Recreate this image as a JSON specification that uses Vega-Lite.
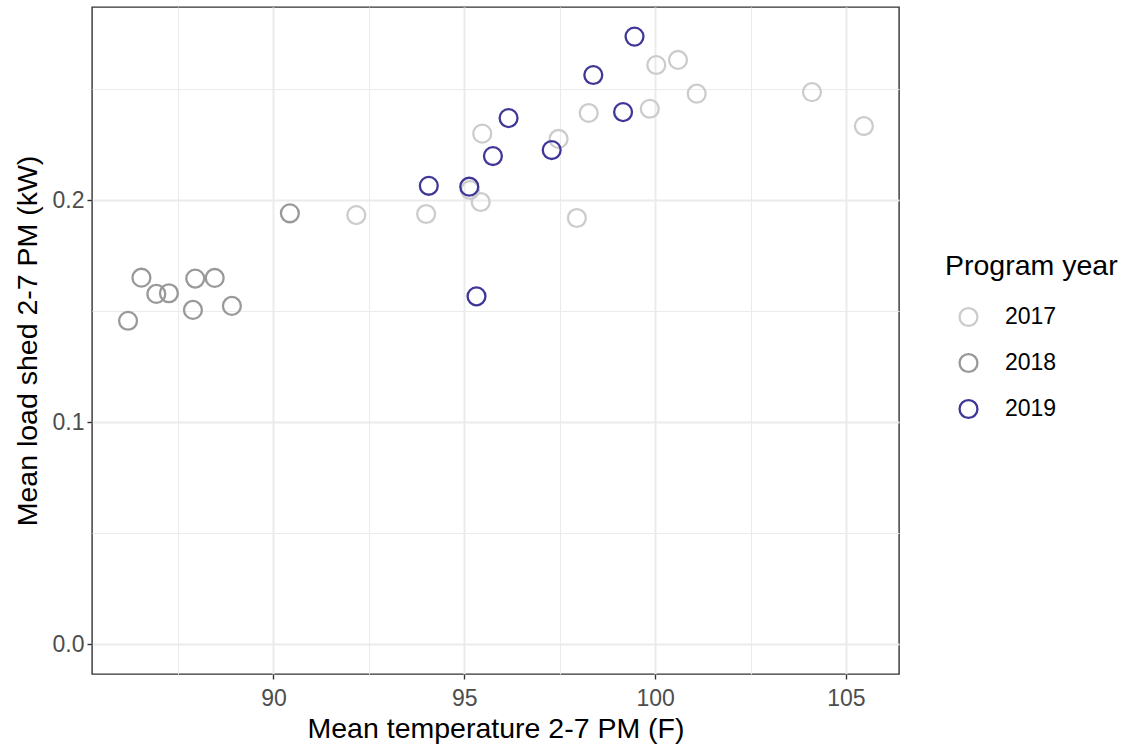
{
  "$schema": "https://vega.github.io/schema/vega-lite/v6.json",
  "width": 807,
  "height": 667,
  "autosize": "none",
  "padding": {"left": 92, "top": 7, "right": 226, "bottom": 75},
  "background": "white",
  "config": {
    "font": "Liberation Sans",
    "view": {"stroke": "#333333", "strokeWidth": 1.4}
  },
  "data": {
    "values": [
      {"temp": 90.43, "shed": 0.194, "year": "2018"},
      {"temp": 86.54, "shed": 0.165, "year": "2018"},
      {"temp": 86.93, "shed": 0.1577, "year": "2018"},
      {"temp": 87.26, "shed": 0.158, "year": "2018"},
      {"temp": 87.95, "shed": 0.1646, "year": "2018"},
      {"temp": 88.46, "shed": 0.1649, "year": "2018"},
      {"temp": 87.89, "shed": 0.1505, "year": "2018"},
      {"temp": 88.91, "shed": 0.1523, "year": "2018"},
      {"temp": 86.19, "shed": 0.1456, "year": "2018"},
      {"temp": 92.17, "shed": 0.1932, "year": "2017"},
      {"temp": 94.0, "shed": 0.1937, "year": "2017"},
      {"temp": 95.15, "shed": 0.2045, "year": "2017"},
      {"temp": 95.43, "shed": 0.1991, "year": "2017"},
      {"temp": 95.47, "shed": 0.2299, "year": "2017"},
      {"temp": 97.47, "shed": 0.2275, "year": "2017"},
      {"temp": 97.95, "shed": 0.1919, "year": "2017"},
      {"temp": 98.26, "shed": 0.2392, "year": "2017"},
      {"temp": 99.86, "shed": 0.2411, "year": "2017"},
      {"temp": 100.03, "shed": 0.2608, "year": "2017"},
      {"temp": 100.6, "shed": 0.2631, "year": "2017"},
      {"temp": 101.09, "shed": 0.2479, "year": "2017"},
      {"temp": 104.11, "shed": 0.2486, "year": "2017"},
      {"temp": 105.47, "shed": 0.2333, "year": "2017"},
      {"temp": 99.46, "shed": 0.2736, "year": "2019"},
      {"temp": 98.38, "shed": 0.2563, "year": "2019"},
      {"temp": 99.16, "shed": 0.2396, "year": "2019"},
      {"temp": 96.16, "shed": 0.2369, "year": "2019"},
      {"temp": 95.75, "shed": 0.2198, "year": "2019"},
      {"temp": 97.29, "shed": 0.2225, "year": "2019"},
      {"temp": 94.07, "shed": 0.2064, "year": "2019"},
      {"temp": 95.13, "shed": 0.206, "year": "2019"},
      {"temp": 95.32, "shed": 0.1566, "year": "2019"}
    ]
  },
  "mark": {"type": "point", "shape": "circle", "filled": false, "size": 320, "strokeWidth": 2.3, "opacity": 1},
  "encoding": {
    "x": {
      "field": "temp",
      "type": "quantitative",
      "scale": {"domain": [85.245, 106.39], "nice": false, "zero": false},
      "axis": {
        "title": "Mean temperature 2-7 PM (F)",
        "values": [87.5, 90, 92.5, 95, 97.5, 100, 102.5, 105],
        "labelExpr": "datum.value % 5 === 0 ? datum.label : ''",
        "gridColor": "#ebebeb",
        "gridWidth": {"condition": {"test": "datum.value % 5 !== 0", "value": 1}, "value": 2},
        "tickColor": {"condition": {"test": "datum.value % 5 !== 0", "value": "transparent"}, "value": "#333333"},
        "tickSize": 5,
        "tickWidth": 1.4,
        "domain": false,
        "labelColor": "#4d4d4d",
        "labelFontSize": 23,
        "labelPadding": 8,
        "titleFontSize": 28.5,
        "titleFontWeight": "normal",
        "titleColor": "#000000",
        "titlePadding": 4
      }
    },
    "y": {
      "field": "shed",
      "type": "quantitative",
      "scale": {"domain": [-0.01351, 0.28694], "nice": false, "zero": false},
      "axis": {
        "title": "Mean load shed 2-7 PM (kW)",
        "values": [0, 0.05, 0.1, 0.15, 0.2, 0.25],
        "labelExpr": "abs(datum.value * 10 - round(datum.value * 10)) < 0.001 ? format(datum.value, '.1f') : ''",
        "gridColor": "#ebebeb",
        "gridWidth": {"condition": {"test": "abs(datum.value * 10 - round(datum.value * 10)) > 0.001", "value": 1}, "value": 2},
        "tickColor": {"condition": {"test": "abs(datum.value * 10 - round(datum.value * 10)) > 0.001", "value": "transparent"}, "value": "#333333"},
        "tickSize": 5,
        "tickWidth": 1.4,
        "domain": false,
        "labelColor": "#4d4d4d",
        "labelFontSize": 23,
        "labelPadding": 3,
        "titleFontSize": 28.5,
        "titleFontWeight": "normal",
        "titleColor": "#000000",
        "titlePadding": 10
      }
    },
    "color": {
      "field": "year",
      "type": "nominal",
      "scale": {"domain": ["2017", "2018", "2019"], "range": ["#cccccc", "#999999", "#3f3797"]},
      "legend": {
        "title": "Program year",
        "orient": "none",
        "legendX": 853,
        "legendY": 245,
        "titleFontSize": 28.5,
        "titleFontWeight": "normal",
        "titleColor": "#000000",
        "titlePadding": 25,
        "labelFontSize": 23,
        "labelColor": "#000000",
        "labelOffset": 25,
        "symbolSize": 320,
        "symbolStrokeWidth": 2.3,
        "symbolType": "circle",
        "symbolOffset": 12,
        "rowPadding": 17,
        "padding": 0
      }
    }
  }
}
